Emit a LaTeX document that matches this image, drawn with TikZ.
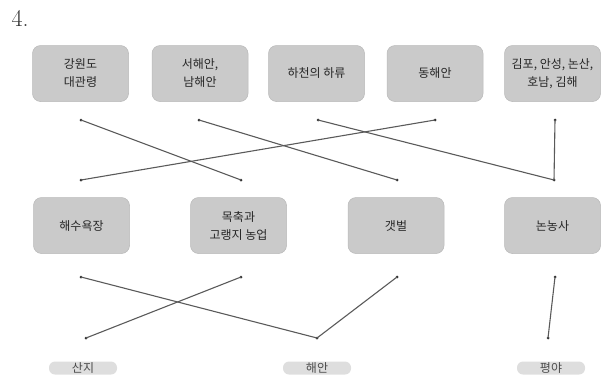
\documentclass[tikz,border=0pt]{standalone}
\usepackage{fontspec}
\newfontfamily\kr{Noto Sans CJK KR}
\definecolor{boxgray}{RGB}{202,202,202}
\definecolor{boxedge}{RGB}{185,185,185}
\definecolor{linegray}{RGB}{90,90,90}
\definecolor{smudge}{RGB}{222,222,222}
\begin{document}
\begin{tikzpicture}[x=1pt,y=-1pt,
  box/.style={draw=boxedge, line width=0.5pt, fill=boxgray, rounded corners=8pt,
    minimum width=96pt, minimum height=56pt, align=center, inner sep=0pt,
    font=\kr\fontsize{12}{18}\selectfont, text=black!85},
  dotnode/.style={circle, fill=black!80, inner sep=0pt, minimum size=3pt},
  link/.style={draw=linegray, line width=1.1pt},
  placelabel/.style={fill=smudge, rounded corners=6pt, minimum width=68pt, minimum height=13pt,
    inner sep=0pt, font=\kr\fontsize{12}{14}\selectfont, text=black!70}
]
\useasboundingbox (0,0) rectangle (604,378);
\node[anchor=west, font=\fontsize{24}{26}\selectfont, text=black!80] (num) at (8,18) {4.};

% top boxes
\node[box] (t1) at (80.5,73.5) {강원도\\대관령};
\node[box] (t2) at (200,73.5) {서해안,\\남해안};
\node[box] (t3) at (316.5,73.5) {하천의 하류};
\node[box] (t4) at (435,73.5) {동해안};
\node[box] (t5) at (552.5,73.5) {김포, 안성, 논산,\\호남, 김해};

% middle boxes
\node[box] (m1) at (81.5,225.5) {해수욕장};
\node[box] (m2) at (238.5,225.5) {목축과\\고랭지 농업};
\node[box] (m3) at (396,225.5) {갯벌};
\node[box] (m4) at (552.5,225.5) {논농사};

% bottom labels
\node[placelabel] (b1) at (83,368) {산지};
\node[placelabel] (b2) at (317,368) {해안};
\node[placelabel] (b3) at (551,368) {평야};

% dots
\node[dotnode] (a1) at (81,120) {};
\node[dotnode] (a2) at (199,120) {};
\node[dotnode] (a3) at (318,120) {};
\node[dotnode] (a4) at (435,120) {};
\node[dotnode] (a5) at (555,120) {};
\node[dotnode] (c1) at (81,180) {};
\node[dotnode] (c2) at (241,180) {};
\node[dotnode] (c3) at (397,180) {};
\node[dotnode] (c4) at (554,180) {};
\node[dotnode] (e1) at (81,277) {};
\node[dotnode] (e2) at (241,277) {};
\node[dotnode] (e3) at (397,277) {};
\node[dotnode] (e4) at (555,277) {};
\node[dotnode] (f1) at (86,338) {};
\node[dotnode] (f2) at (317,338) {};
\node[dotnode] (f3) at (548,338) {};

% connectors
\draw[link] (a1.center) -- (c2.center);
\draw[link] (a2.center) -- (c3.center);
\draw[link] (a3.center) -- (c4.center);
\draw[link] (a4.center) -- (c1.center);
\draw[link] (a5.center) -- (c4.center);
\draw[link] (e1.center) -- (f2.center);
\draw[link] (e2.center) -- (f1.center);
\draw[link] (e3.center) -- (f2.center);
\draw[link] (e4.center) -- (f3.center);
\end{tikzpicture}
\end{document}
